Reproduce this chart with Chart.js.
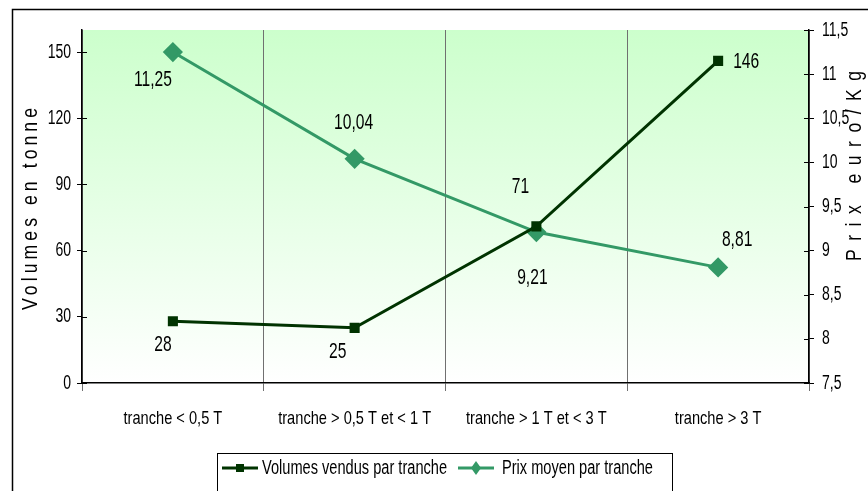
<!DOCTYPE html>
<html>
<head>
<meta charset="utf-8">
<script src="https://cdn.jsdelivr.net/npm/chart.js@4.4.1/dist/chart.umd.min.js"></script>
<style>
  html, body { margin: 0; padding: 0; background: #fff; }
  #wrap { width: 868px; height: 491px; position: relative; }
</style>
</head>
<body>
<div id="wrap"><canvas id="chart" width="868" height="491"></canvas></div>
<script>
// Données du graphique
const categories = ['tranche < 0,5 T', 'tranche > 0,5 T et < 1 T', 'tranche > 1 T et < 3 T', 'tranche > 3 T'];
const volumes = [28, 25, 71, 146];
const prix = [11.25, 10.04, 9.21, 8.81];
const volumeLabel = 'Volumes vendus par tranche';
const prixLabel = 'Prix moyen par tranche';
const titreGauche = 'Volumes en tonne';
const titreDroite = 'Prix euro/Kg';

// Décalage des étiquettes (en px, style seulement)
const volumeOffsets = [[-10, 24], [-17, 24], [-16, -39], [15, 1]];
const prixOffsets = [[-20, 28], [-1, -36], [-4, 46], [19, -27]];

const FONT = "'Liberation Sans', Arial, sans-serif";
const darkGreen = '#003300';
const seaGreen = '#339966';

const fmt = v => String(v).replace('.', ',');

// texte condensé (imitation Arial Narrow)
function narrowText(ctx, txt, x, y, size, align, sx) {
  ctx.save();
  ctx.font = size + 'px ' + FONT;
  ctx.fillStyle = '#000';
  ctx.textAlign = align;
  ctx.textBaseline = 'middle';
  ctx.translate(x, y);
  ctx.scale(sx, 1);
  ctx.fillText(txt, 0, 0);
  ctx.restore();
}

// titre vertical espacé
function spacedTitle(ctx, txt, x, y, size, sx, length) {
  ctx.save();
  ctx.font = size + 'px ' + FONT;
  const w = ctx.measureText(txt).width;
  const sp = (length / sx - w) / (txt.length - 1);
  ctx.letterSpacing = sp + 'px';
  ctx.fillStyle = '#000';
  ctx.textAlign = 'left';
  ctx.textBaseline = 'middle';
  ctx.translate(x, y);
  ctx.rotate(-Math.PI / 2);
  ctx.scale(sx, 1);
  ctx.fillText(txt, -length / sx / 2, 0);
  ctx.restore();
}

const decorPlugin = {
  id: 'decor',
  beforeDraw(c) {
    const ctx = c.ctx;
    const a = c.chartArea;
    ctx.save();
    ctx.fillStyle = '#fff';
    ctx.fillRect(0, 0, c.width, c.height);
    const g = ctx.createLinearGradient(0, a.top, 0, a.bottom);
    g.addColorStop(0, '#ccffcc');
    g.addColorStop(1, '#ffffff');
    ctx.fillStyle = g;
    ctx.fillRect(a.left, a.top, a.right - a.left, a.bottom - a.top);
    ctx.strokeStyle = '#000';
    ctx.lineWidth = 1.5;
    ctx.strokeRect(12.5, 9.5, 900, 600);
    ctx.restore();
  },
  afterDraw(c) {
    const ctx = c.ctx;
    const a = c.chartArea;
    const sy = c.scales.y, sy1 = c.scales.y1, sx = c.scales.x;

    // petites graduations intérieures
    ctx.save();
    ctx.strokeStyle = '#000';
    ctx.lineWidth = 1;
    sy.ticks.forEach(t => {
      const py = Math.round(sy.getPixelForValue(t.value)) + 0.5;
      ctx.beginPath(); ctx.moveTo(a.left, py); ctx.lineTo(a.left + 5, py); ctx.stroke();
    });
    sy1.ticks.forEach(t => {
      const py = Math.round(sy1.getPixelForValue(t.value)) + 0.5;
      ctx.beginPath(); ctx.moveTo(a.right - 5, py); ctx.lineTo(a.right, py); ctx.stroke();
    });
    ctx.restore();

    // libellés des axes
    sy.ticks.forEach(t => narrowText(ctx, String(t.value), a.left - 11, sy.getPixelForValue(t.value), 20, 'right', 0.7));
    sy1.ticks.forEach(t => narrowText(ctx, fmt(t.value), a.right + 13, sy1.getPixelForValue(t.value), 20, 'left', 0.7));
    sx.ticks.forEach((t, i) => narrowText(ctx, categories[i], sx.getPixelForTick(i), a.bottom + 36, 19, 'center', 0.77));

    // titres des axes
    spacedTitle(ctx, titreGauche, 31, 209, 22, 0.8, 202);
    spacedTitle(ctx, titreDroite, 855, 166, 22, 0.8, 190);

    // étiquettes de données
    const drawLabels = (dsIndex, offs) => {
      const meta = c.getDatasetMeta(dsIndex);
      const data = c.data.datasets[dsIndex].data;
      meta.data.forEach((pt, i) => {
        const [dx, dy] = offs[i];
        const align = (dsIndex === 0 && i === 3) ? 'left' : 'center';
        narrowText(ctx, fmt(data[i]), pt.x + dx, pt.y + dy, 22, align, 0.71);
      });
    };
    drawLabels(0, volumeOffsets);
    drawLabels(1, prixOffsets);

    // légende
    ctx.save();
    const lx = 217.5, ly = 453.5, lw = 455, lh = 60;
    ctx.strokeStyle = '#000';
    ctx.lineWidth = 1;
    ctx.fillStyle = '#fff';
    ctx.fillRect(lx, ly, lw, lh);
    ctx.strokeRect(lx, ly, lw, lh);
    ctx.restore();
    const my = 468;
    const items = [
      { ds: c.data.datasets[0], x: 222, tx: 262 },
      { ds: c.data.datasets[1], x: 458, tx: 502 }
    ];
    items.forEach(it => {
      ctx.save();
      ctx.strokeStyle = it.ds.borderColor;
      ctx.lineWidth = 3;
      ctx.beginPath();
      ctx.moveTo(it.x, my);
      ctx.lineTo(it.x + 36, my);
      ctx.stroke();
      ctx.fillStyle = it.ds.borderColor;
      const cx = it.x + 18;
      if (it.ds.pointStyle === 'rect') {
        ctx.fillRect(cx - 4, my - 4, 8, 8);
      } else {
        ctx.beginPath();
        ctx.moveTo(cx, my - 7);
        ctx.lineTo(cx + 5, my);
        ctx.lineTo(cx, my + 7);
        ctx.lineTo(cx - 5, my);
        ctx.closePath();
        ctx.fill();
      }
      ctx.restore();
      narrowText(ctx, it.ds.label, it.tx, my, 20, 'left', 0.73);
    });
  }
};

const ctx = document.getElementById('chart').getContext('2d');
const chart = new Chart(ctx, {
  type: 'line',
  data: {
    labels: categories,
    datasets: [
      {
        label: volumeLabel,
        data: volumes,
        yAxisID: 'y',
        borderColor: darkGreen,
        backgroundColor: darkGreen,
        borderWidth: 3,
        pointStyle: 'rect',
        pointRadius: 5,
        pointHoverRadius: 5,
        tension: 0
      },
      {
        label: prixLabel,
        data: prix,
        yAxisID: 'y1',
        borderColor: seaGreen,
        backgroundColor: seaGreen,
        borderWidth: 3,
        pointStyle: 'rectRot',
        pointRadius: 8,
        pointHoverRadius: 8,
        tension: 0
      }
    ]
  },
  options: {
    responsive: false,
    animation: false,
    events: [],
    layout: { padding: { top: 30, bottom: 0, left: 0, right: 0 } },
    plugins: {
      legend: { display: false },
      tooltip: { enabled: false }
    },
    scales: {
      x: {
        offset: true,
        grid: { offset: true, color: '#707070', lineWidth: 1, tickLength: 8 },
        border: { color: '#000', width: 1.5 },
        ticks: { color: 'rgba(0,0,0,0)', autoSkip: false, maxRotation: 0 },
        afterFit(scale) { scale.height = 108; }
      },
      y: {
        position: 'left',
        min: 0,
        max: 160,
        grid: { drawOnChartArea: false, color: '#000', tickLength: 5 },
        border: { color: '#000', width: 1.5 },
        ticks: { stepSize: 30, includeBounds: false, color: 'rgba(0,0,0,0)' },
        afterFit(scale) { scale.width = 82; }
      },
      y1: {
        position: 'right',
        min: 7.5,
        max: 11.5,
        grid: { drawOnChartArea: false, color: '#000', tickLength: 5 },
        border: { color: '#000', width: 1.5 },
        ticks: { stepSize: 0.5, color: 'rgba(0,0,0,0)' },
        afterFit(scale) { scale.width = 59; }
      }
    }
  },
  plugins: [decorPlugin]
});
</script>
</body>
</html>
